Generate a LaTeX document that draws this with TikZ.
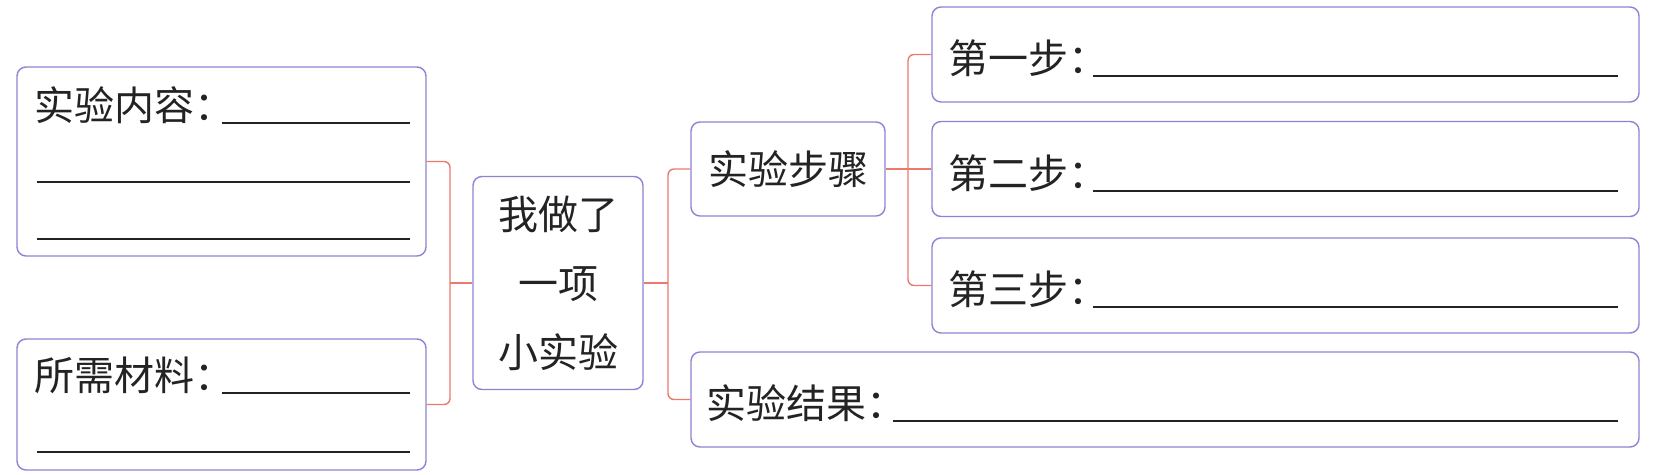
\documentclass[tikz,border=0pt]{standalone}
\usepackage{fontspec}
\newfontfamily\cjk{Noto Sans CJK SC}
\usetikzlibrary{calc,positioning}
\definecolor{boxline}{RGB}{138,132,210}
\definecolor{linkline}{RGB}{236,120,110}
\definecolor{ink}{RGB}{35,35,35}

\begin{document}
\begin{tikzpicture}[x=1pt,y=-1pt,
    box/.style={draw=boxline,line width=1.4pt,rounded corners=9pt,inner sep=0pt,text=ink,font=\cjk\fontsize{40}{69}\selectfont},
    lbl/.style={anchor=base west,inner sep=0pt,text=ink,font=\cjk\fontsize{40}{48}\selectfont},
    link/.style={draw=linkline,line width=1.4pt,rounded corners=6pt},
    blank/.style={draw=ink,line width=1.8pt}]
                      \useasboundingbox (0,0) rectangle (1659,474);

                      % left branch
                      \node[box,minimum width=409pt,minimum height=189pt] (content) at (221.5,161.5) {};
                      \node[box,minimum width=409pt,minimum height=131pt] (material) at (221.5,404.5) {};
                      \node[lbl] (contentlbl) at (34,120) {实验内容：};
                      \node[lbl] (materiallbl) at (34,390) {所需材料：};

                      % centre
                      \node[box,minimum width=170pt,minimum height=213pt,align=center] (main) at (558,283) {我做了\\一项\\小实验};

                      % right branch
                      \node[box,minimum width=194pt,minimum height=94pt] (steps) at (788,169) {实验步骤};
                      \node[box,minimum width=707pt,minimum height=95pt] (step1) at (1285.5,54.5) {};
                      \node[box,minimum width=707pt,minimum height=95pt] (step2) at (1285.5,169) {};
                      \node[box,minimum width=707pt,minimum height=95pt] (step3) at (1285.5,285.5) {};
                      \node[box,minimum width=948pt,minimum height=95pt] (result) at (1165,399.5) {};
                      \node[lbl] (step1lbl) at (948,73) {第一步：};
                      \node[lbl] (step2lbl) at (948,188) {第二步：};
                      \node[lbl] (step3lbl) at (948,304) {第三步：};
                      \node[lbl] (resultlbl) at (706,418) {实验结果：};

                      % blanks to fill in
                      \foreach \xa/\xb/\y in {222/410/123, 37/410/182, 37/410/239, 222/410/393, 37/410/452,
                                              1093/1618/76, 1093/1618/191, 1093/1618/307, 893/1618/421}
                        \draw[blank] (\xa,\y) -- (\xb,\y);

                      % connectors
                      \coordinate (jl) at (450,283);
                      \coordinate (jm) at (668,283);
                      \coordinate (jr) at (908,169);
                      \draw[link] (content.east) -| (jl) |- (material.east);
                      \draw[link] (main.west) -- (jl);
                      \draw[link] (steps.west) -| (jm) |- (result.west);
                      \draw[link] (main.east) -- (jm);
                      \draw[link] (step1.west) -| (jr) |- (step3.west);
                      \draw[link] (steps.east) -- (step2.west);
                    \end{tikzpicture}
\end{document}
